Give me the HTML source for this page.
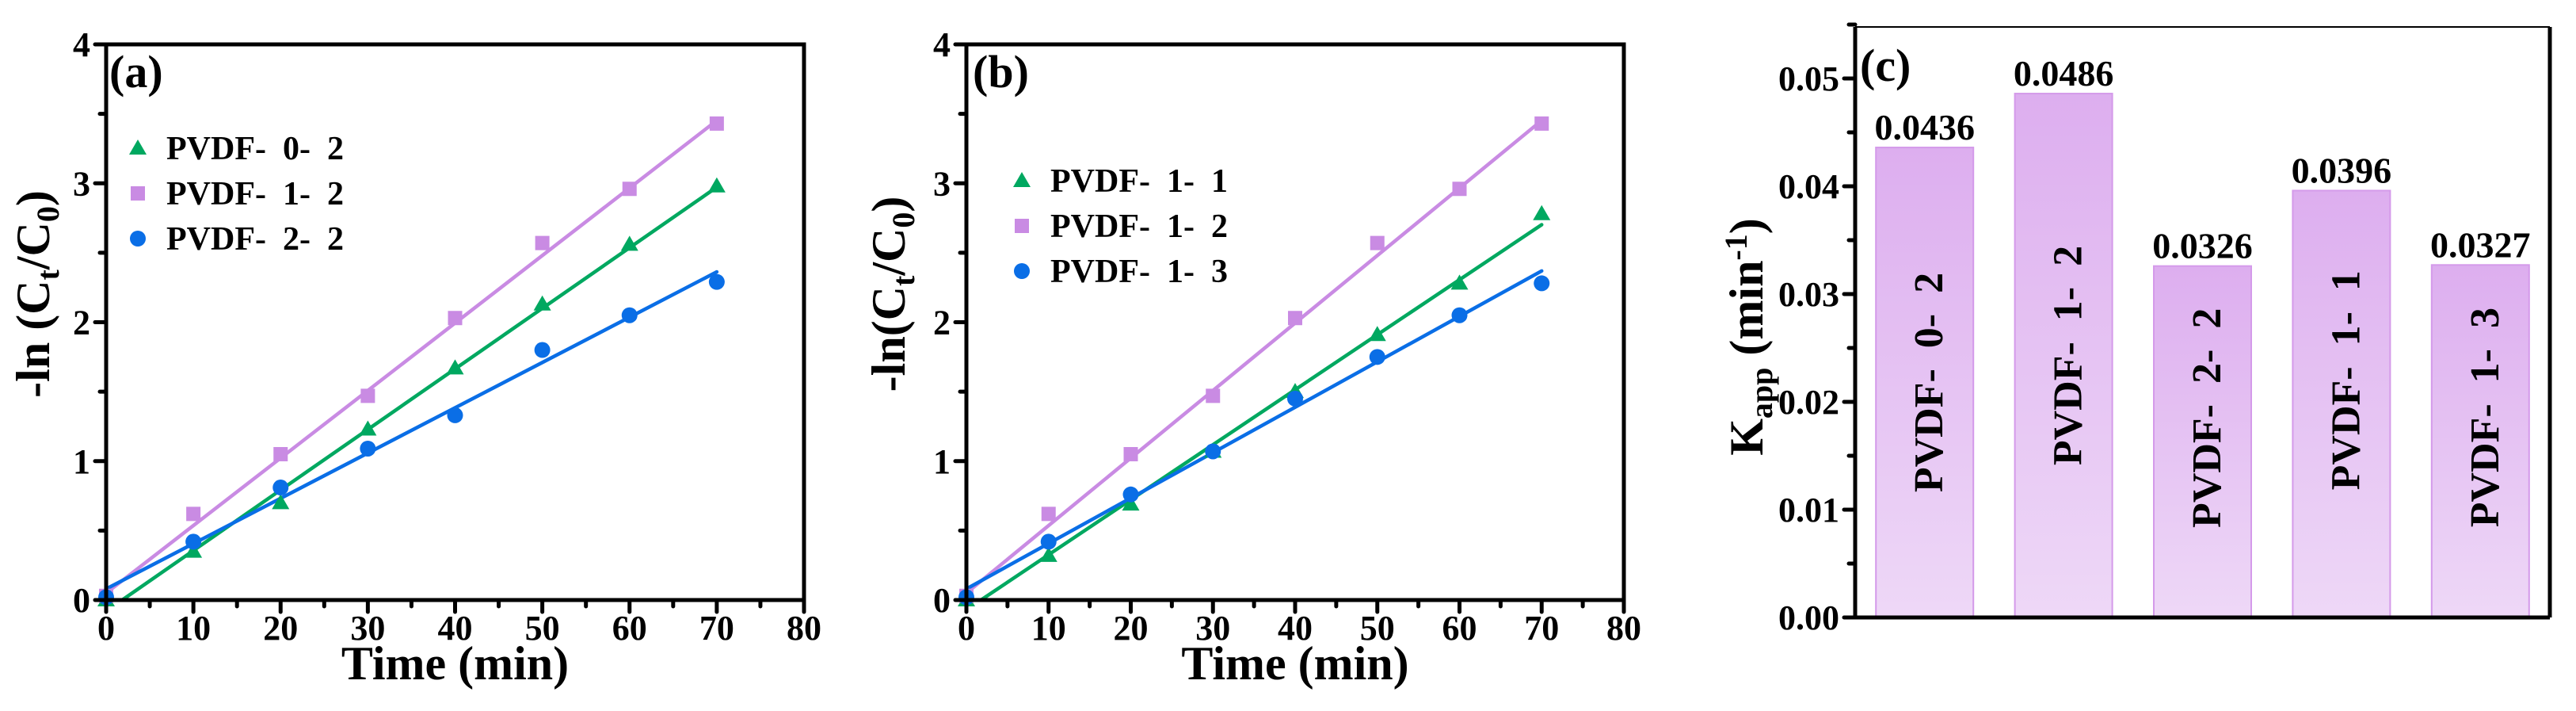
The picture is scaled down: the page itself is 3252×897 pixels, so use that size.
<!DOCTYPE html>
<html><head><meta charset="utf-8"><style>
html,body{margin:0;padding:0;background:#fff;}
svg{display:block;font-family:"Liberation Serif","Times New Roman",serif;font-weight:bold;}
svg text{white-space:pre;font-family:"Liberation Serif","Times New Roman",serif;font-weight:bold;}
</style></head><body>
<svg id="fig" width="3252" height="897" viewBox="0 0 3252 897" xmlns="http://www.w3.org/2000/svg" font-family="Liberation Serif, serif" font-weight="bold">
<defs>
<linearGradient id="barGrad" x1="0" y1="0" x2="0" y2="1">
<stop offset="0" stop-color="#ddaeef"/><stop offset="1" stop-color="#eed8f7"/>
</linearGradient>
</defs>
</svg>
<script>
// ---- data panel (a) ----
const timeVals = [0,10,20,30,40,50,60,70];
const aSeriesNames = ["PVDF-  0-  2","PVDF-  1-  2","PVDF-  2-  2"];
const aS1 = [0.0,0.35,0.70,1.23,1.67,2.13,2.56,2.98];
const aS2 = [0.03,0.62,1.05,1.47,2.03,2.57,2.96,3.43];
const aS3 = [0.02,0.42,0.81,1.09,1.33,1.80,2.05,2.29];
const aSlopes = [0.0436,0.0486,0.0326];
const aIntercepts = [-0.08,0.05,0.08];
// ---- data panel (b) ----
const bSeriesNames = ["PVDF-  1-  1","PVDF-  1-  2","PVDF-  1-  3"];
const bS1 = [0.0,0.32,0.69,1.07,1.50,1.91,2.28,2.78];
const bS2 = [0.03,0.62,1.05,1.47,2.03,2.57,2.96,3.43];
const bS3 = [0.02,0.42,0.76,1.07,1.45,1.75,2.05,2.28];
const bSlopes = [0.0396,0.0486,0.0327];
const bIntercepts = [-0.07,0.05,0.08];
const xTicks = [0,10,20,30,40,50,60,70,80];
const yTicks = [0,1,2,3,4];
// ---- data panel (c) ----
const barCats = ["PVDF-  0-  2","PVDF-  1-  2","PVDF-  2-  2","PVDF-  1-  1","PVDF-  1-  3"];
const barVals = [0.0436,0.0486,0.0326,0.0396,0.0327];
const barLabels = ["0.0436","0.0486","0.0326","0.0396","0.0327"];
const cTicks = [0,0.01,0.02,0.03,0.04,0.05];
const cTickLabels = ["0.00","0.01","0.02","0.03","0.04","0.05"];

const NS="http://www.w3.org/2000/svg";
const svg=document.getElementById('fig');
function mk(tag,attrs,parent,text){const e=document.createElementNS(NS,tag);for(const k in attrs)e.setAttribute(k,attrs[k]);if(text!==undefined)e.textContent=text;(parent||svg).appendChild(e);return e;}
const colors=["#00a860","#c98be3","#0a6ee6"];

function marker(g,type,cx,cy,col){
  let e;
  if(type===0){e=mk('polygon',{points:`${cx-11},${cy+8} ${cx+11},${cy+8} ${cx},${cy-11}`,fill:col},g);}
  else if(type===1){e=mk('rect',{x:cx-9,y:cy-9,width:18,height:18,fill:col},g);}
  else {e=mk('circle',{cx:cx,cy:cy,r:10,fill:col},g);}
  return e;
}

function linePanel(id,L,R,T,B,series,slopes,intercepts,names,legX,legY0,legDY,tag,tagX,yTitleX){
  const g=mk('g',{});
  
  
  const sx=v=>L+(v-0)/(80-0)*(R-L);
  const sy=v=>B-(v-0)/(4-0)*(B-T);
  series.forEach((s,i)=>{
    let x1=0; if(intercepts[i]<0) x1=-intercepts[i]/slopes[i];
    const l=mk('line',{x1:sx(x1),y1:sy(slopes[i]*x1+intercepts[i]),x2:sx(70),y2:sy(slopes[i]*70+intercepts[i]),stroke:colors[i],'stroke-width':4.5,'stroke-linecap':'round'},g);
    
    
  });
  series.forEach((s,i)=>{
    s.forEach((v,j)=>{
      const m=marker(g,i,sx(timeVals[j]),sy(v),colors[i]);
      
      
    });
  });
  const fr=mk('rect',{x:L,y:T,width:R-L,height:B-T,fill:'none',stroke:'#000','stroke-width':5},g);
  
  
  xTicks.forEach(t=>{
    mk('line',{x1:sx(t),y1:B,x2:sx(t),y2:B+15,stroke:'#000','stroke-width':5,'stroke-linecap':'round'},g);
    if(t<80) mk('line',{x1:sx(t+5),y1:B,x2:sx(t+5),y2:B+8,stroke:'#000','stroke-width':5,'stroke-linecap':'round'},g);
    const tl=mk('text',{x:sx(t),y:B+50,'font-size':44,'text-anchor':'middle'},g,String(t));
    
    
  });
  yTicks.forEach(t=>{
    mk('line',{x1:L,y1:sy(t),x2:L-14,y2:sy(t),stroke:'#000','stroke-width':5,'stroke-linecap':'round'},g);
    if(t<4) mk('line',{x1:L,y1:sy(t+0.5),x2:L-8,y2:sy(t+0.5),stroke:'#000','stroke-width':5,'stroke-linecap':'round'},g);
    const tl=mk('text',{x:L-20,y:sy(t)+15,'font-size':44,'text-anchor':'end'},g,String(t));
    
    
  });
  const xt=mk('text',{x:(L+R)/2,y:857,'font-size':60,'text-anchor':'middle'},g,'Time (min)');
  
  
  const yt=mk('text',{x:0,y:0,'font-size':60,'text-anchor':'middle',transform:`translate(${yTitleX+20},371) rotate(-90)`},g);
  
  
  mk('tspan',{},yt,id==='a'?'-ln (C':'-ln(C');
  mk('tspan',{'font-size':40,dy:12},yt,'t');
  mk('tspan',{dy:-12},yt,'/C');
  mk('tspan',{'font-size':40,dy:12},yt,'0');
  mk('tspan',{dy:-12},yt,')');
  const tg=mk('text',{x:tagX,y:110,'font-size':58},g,tag);
  
  
  names.forEach((n,i)=>{
    const lg=mk('g',{},g);
    
    
    marker(lg,i,legX,legY0+i*legDY,colors[i]);
    mk('text',{x:legX+36,y:legY0+i*legDY+14,'font-size':42},lg,n);
  });
}
linePanel('a',134,1015,56,757,[aS1,aS2,aS3],aSlopes,aIntercepts,aSeriesNames,174,187,57,'(a)',138,42);
linePanel('b',1220,2050,56,757,[bS1,bS2,bS3],bSlopes,bIntercepts,bSeriesNames,1290,228,57,'(b)',1228,1122);

(function(){
  const L=2342,R=3219,T=34,B=779,ymax=0.05478;
  const g=mk('g',{});
  
  
  const sy=v=>B-v/ymax*(B-T);
  const slot=(R-L)/barCats.length;
  const bw=123;
  barVals.forEach((v,i)=>{
    const cx=L+(i+0.5)*slot;
    const b=mk('rect',{x:cx-bw/2,y:sy(v),width:bw,height:B-sy(v),fill:'url(#barGrad)',stroke:'#d49aea','stroke-width':2},g);
    
    
    const vl=mk('text',{x:cx,y:sy(v)-10,'font-size':46,'text-anchor':'middle'},g,barLabels[i]);
    
    
    const cl=mk('text',{x:0,y:0,'font-size':52,'text-anchor':'middle','dominant-baseline':'central',transform:`translate(${cx+6},${(sy(v)+B)/2+ (v>0.04?0:-30)}) rotate(-90)`},g,barCats[i]);
    
    
  });
  mk('line',{x1:L,y1:T,x2:R,y2:T,stroke:'#000','stroke-width':2},g);
  mk('line',{x1:R,y1:T,x2:R,y2:B,stroke:'#000','stroke-width':5},g);
  const xa=mk('line',{x1:L,y1:B,x2:R,y2:B,stroke:'#000','stroke-width':5},g);
  
  
  const ya=mk('line',{x1:L,y1:T,x2:L,y2:B,stroke:'#000','stroke-width':5},g);
  
  
  cTicks.forEach((t,i)=>{
    mk('line',{x1:L,y1:sy(t),x2:L-14,y2:sy(t),stroke:'#000','stroke-width':5,'stroke-linecap':'round'},g);
    mk('line',{x1:L,y1:sy(t+0.005),x2:L-8,y2:sy(t+0.005),stroke:'#000','stroke-width':5,'stroke-linecap':'round'},g);
    const tl=mk('text',{x:L-20,y:sy(t)+15,'font-size':44,'text-anchor':'end'},g,cTickLabels[i]);
    
    
  });
  const yt=mk('text',{x:0,y:0,'font-size':60,'text-anchor':'middle',transform:`translate(2225,425) rotate(-90)`},g);
  
  
  mk('tspan',{},yt,'K');
  mk('tspan',{'font-size':40,dy:12},yt,'app');
  mk('tspan',{dy:-12},yt,' (min');
  mk('tspan',{'font-size':40,dy:-20},yt,'-1');
  mk('tspan',{dy:20},yt,')');
  const tg=mk('text',{x:2348,y:102,'font-size':58},g,'(c)');
  
  
})();
</script>
</body></html>
